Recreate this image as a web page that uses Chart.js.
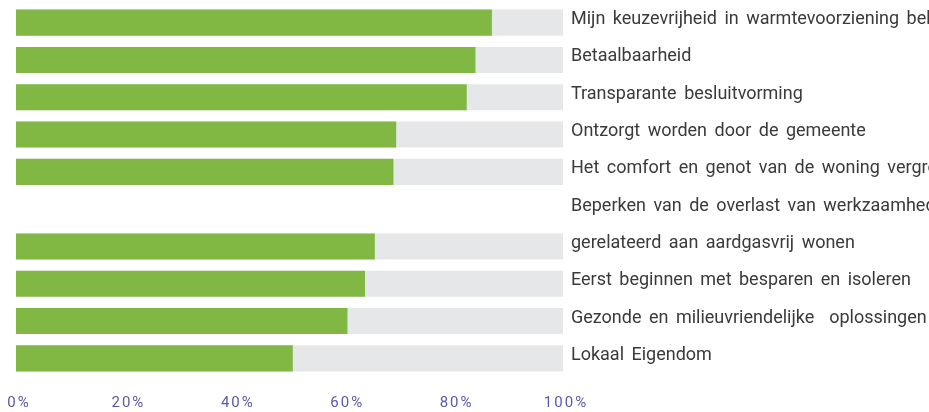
<!DOCTYPE html>
<html>
<head>
<meta charset="utf-8">
<script src="https://cdn.jsdelivr.net/npm/chart.js@4/dist/chart.umd.min.js"></script>
<style>
  html, body { margin: 0; padding: 0; background: #fff; }
  #wrap { width: 929px; height: 412px; }
</style>
</head>
<body>
<div id="wrap"><canvas id="diagram"></canvas></div>
<script>
// labels rechts van de balken (de 6e regel is het eerste deel van een lange tekst)
const labels = [
  "Mijn keuzevrijheid in warmtevoorziening behouden",
  "Betaalbaarheid",
  "Transparante besluitvorming",
  "Ontzorgt worden door de gemeente",
  "Het comfort en genot van de woning vergroten",
  "Beperken van de overlast van werkzaamheden",
  "gerelateerd aan aardgasvrij wonen",
  "Eerst beginnen met besparen en isoleren",
  "Gezonde en milieuvriendelijke  oplossingen",
  "Lokaal Eigendom",
];

// percentages
const scores = [87, 84, 82.4, 69.5, 69, null, 65.6, 63.8, 60.6, 50.6];
const totaal = [100, 100, 100, 100, 100, null, 100, 100, 100, 100];

const xTicks = [0, 20, 40, 60, 80, 100];

const datasets = [
  {
    label: "Score",
    data: scores,
    backgroundColor: "#80b843",
    grouped: false,
    barPercentage: 0.7,
    categoryPercentage: 1,
  },
  {
    label: "Totaal",
    data: totaal,
    backgroundColor: "#e6e7e9",
    grouped: false,
    barPercentage: 0.7,
    categoryPercentage: 1,
  },
];

// extra letter- en woordafstand voor de aslabels
function spaceLabels(scale, prop, val) {
  if (!scale || scale._spaced) return;
  const orig = scale.drawLabels;
  scale.drawLabels = function (area) {
    const ctx = this.ctx;
    ctx.save();
    ctx[prop] = val;
    orig.call(this, area);
    ctx.restore();
  };
  scale._spaced = true;
}

const spacingPlugin = {
  id: "spacing",
  afterLayout(chart) {
    spaceLabels(chart.scales.x, "letterSpacing", "2px");
    spaceLabels(chart.scales.y, "wordSpacing", "3px");
  },
};

const config = {
  type: "bar",
  data: { labels, datasets },
  options: {
    indexAxis: "y",
    responsive: true,
    maintainAspectRatio: false,
    animation: false,
    layout: { padding: { left: 16, top: 4, right: 0, bottom: 0 } },
    plugins: { legend: { display: false }, tooltip: { enabled: false } },
    scales: {
      x: {
        min: 0,
        max: 100,
        afterBuildTicks: (scale) => {
          scale.ticks = xTicks.map((v) => ({ value: v }));
        },
        afterFit: (scale) => {
          scale.height = 35;
          scale.paddingLeft = 0;
          scale.paddingRight = 0;
        },
        grid: { display: false, drawTicks: false },
        border: { display: false },
        ticks: {
          padding: 17,
          labelOffset: 3,
          color: "#5b58a8",
          font: { family: "Roboto", size: 15 },
          callback: (v) => v + "%",
        },
      },
      y: {
        position: "right",
        grid: { display: false, drawTicks: false },
        border: { display: false },
        afterFit: (scale) => {
          scale.width = 366;
          scale.paddingTop = 0;
          scale.paddingBottom = 0;
        },
        ticks: {
          padding: 8,
          labelOffset: -3,
          crossAlign: "near",
          color: "#3a3a3a",
          font: { family: "Roboto", size: 18 },
        },
      },
    },
  },
  plugins: [spacingPlugin],
};

const chart = new Chart(document.getElementById("diagram"), config);
</script>
</body>
</html>
